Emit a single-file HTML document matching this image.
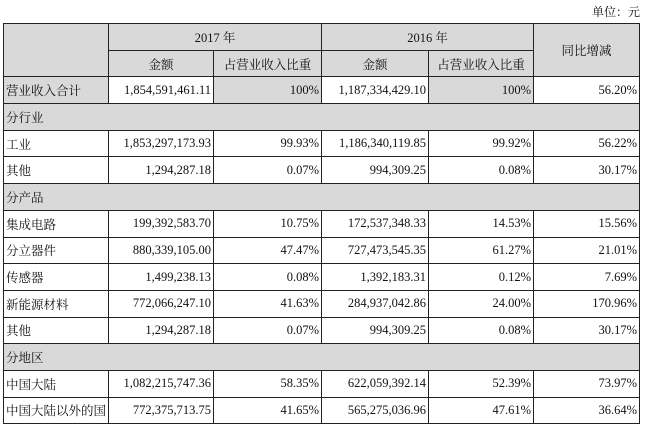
<!DOCTYPE html>
<html><head><meta charset="utf-8"><style>
body{margin:0;width:646px;height:427px;background:#fff;font-family:"Liberation Serif","Noto Serif CJK SC",serif;color:#111;position:relative;overflow:hidden}
.unit{position:absolute;right:6px;top:3px;font-size:12px}
table{position:absolute;left:3px;top:23px;border-collapse:collapse;table-layout:fixed;font-size:12.5px}
td{border:1px solid #222;height:25.7px;padding:0 2px;white-space:nowrap;overflow:hidden}
.g{background:#d9d9d9}
.r{text-align:right}
.c{text-align:center}
</style></head><body>
<div class="unit">单位：元</div>
<table>
<colgroup><col style="width:105px"><col style="width:105px"><col style="width:108px"><col style="width:107px"><col style="width:105px"><col style="width:106px"></colgroup>
<tr><td class="g" rowspan="2"></td><td class="g c" colspan="2">2017 年</td><td class="g c" colspan="2">2016 年</td><td class="g c" rowspan="2">同比增减</td></tr>
<tr><td class="g c">金额</td><td class="g c">占营业收入比重</td><td class="g c">金额</td><td class="g c">占营业收入比重</td></tr>
<tr><td class="g">营业收入合计</td><td class="r">1,854,591,461.11</td><td class="g r">100%</td><td class="r">1,187,334,429.10</td><td class="g r">100%</td><td class="r">56.20%</td></tr>
<tr><td class="g" colspan="6">分行业</td></tr>
<tr><td>工业</td><td class="r">1,853,297,173.93</td><td class="r">99.93%</td><td class="r">1,186,340,119.85</td><td class="r">99.92%</td><td class="r">56.22%</td></tr>
<tr><td>其他</td><td class="r">1,294,287.18</td><td class="r">0.07%</td><td class="r">994,309.25</td><td class="r">0.08%</td><td class="r">30.17%</td></tr>
<tr><td class="g" colspan="6">分产品</td></tr>
<tr><td>集成电路</td><td class="r">199,392,583.70</td><td class="r">10.75%</td><td class="r">172,537,348.33</td><td class="r">14.53%</td><td class="r">15.56%</td></tr>
<tr><td>分立器件</td><td class="r">880,339,105.00</td><td class="r">47.47%</td><td class="r">727,473,545.35</td><td class="r">61.27%</td><td class="r">21.01%</td></tr>
<tr><td>传感器</td><td class="r">1,499,238.13</td><td class="r">0.08%</td><td class="r">1,392,183.31</td><td class="r">0.12%</td><td class="r">7.69%</td></tr>
<tr><td>新能源材料</td><td class="r">772,066,247.10</td><td class="r">41.63%</td><td class="r">284,937,042.86</td><td class="r">24.00%</td><td class="r">170.96%</td></tr>
<tr><td>其他</td><td class="r">1,294,287.18</td><td class="r">0.07%</td><td class="r">994,309.25</td><td class="r">0.08%</td><td class="r">30.17%</td></tr>
<tr><td class="g" colspan="6">分地区</td></tr>
<tr><td>中国大陆</td><td class="r">1,082,215,747.36</td><td class="r">58.35%</td><td class="r">622,059,392.14</td><td class="r">52.39%</td><td class="r">73.97%</td></tr>
<tr><td>中国大陆以外的国</td><td class="r">772,375,713.75</td><td class="r">41.65%</td><td class="r">565,275,036.96</td><td class="r">47.61%</td><td class="r">36.64%</td></tr>
</table>
</body></html>
